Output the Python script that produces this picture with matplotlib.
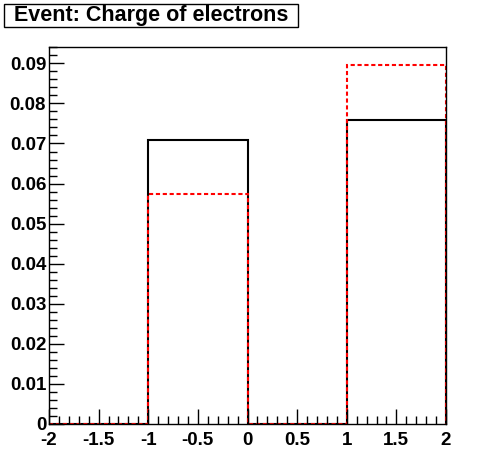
import numpy as np
import matplotlib
matplotlib.use('Agg')
from matplotlib import pyplot as plt
from matplotlib.ticker import MultipleLocator, FuncFormatter
from matplotlib.patches import Rectangle

# bin edges and contents (two normalised histograms)
edges = [-2, -1, 0, 1, 2]
black_vals = [0.0, 0.0709, 0.0, 0.0758]
red_vals = [0.0, 0.0573, 0.0, 0.0896]
title = "Event: Charge of electrons"

plt.rcParams['font.family'] = ['Liberation Sans', 'DejaVu Sans']

W, H = 496, 472
fig = plt.figure(figsize=(W / 100, H / 100), dpi=100)
L, R, T, B = 49, 446, 47, 424
ax = fig.add_axes([L / W, 1 - B / H, (R - L) / W, (B - T) / H])

ax.stairs(black_vals, edges, color='black', lw=1.5)
ax.stairs(red_vals, edges, color='red', lw=1.5, linestyle=(0, (2, 1.3)))

ax.set_xlim(-2, 2)
ax.set_ylim(0, max(max(black_vals), max(red_vals)) * 1.05)

ax.xaxis.set_major_locator(MultipleLocator(0.5))
ax.xaxis.set_minor_locator(MultipleLocator(0.1))
ax.yaxis.set_major_locator(MultipleLocator(0.01))
ax.yaxis.set_minor_locator(MultipleLocator(0.002))

def fmt(v, pos):
    s = ('%.2f' % v).rstrip('0').rstrip('.')
    return '0' if s in ('-0', '') else s

ax.xaxis.set_major_formatter(FuncFormatter(fmt))
ax.yaxis.set_major_formatter(FuncFormatter(fmt))
ax.tick_params(which='both', direction='in', top=False, right=False,
               labelsize=13.5, width=1)
ax.tick_params(which='major', length=11)
ax.tick_params(which='minor', length=6)
for lab in ax.get_xticklabels() + ax.get_yticklabels():
    lab.set_fontweight('bold')
ax.tick_params(axis='x', pad=6)
ax.tick_params(axis='y', pad=2)
for sp in ax.spines.values():
    sp.set_linewidth(1)

# title box like ROOT's TPaveText
fig.add_artist(Rectangle((4 / W, 1 - 27 / H), 294 / W, 23 / H,
                         transform=fig.transFigure, fc='white', ec='black', lw=1))
fig.text(151 / W, 1 - 16 / H, title, fontsize=15.5, fontweight='bold',
         va='center', ha='center')

fig.savefig('out.png', dpi=100)
